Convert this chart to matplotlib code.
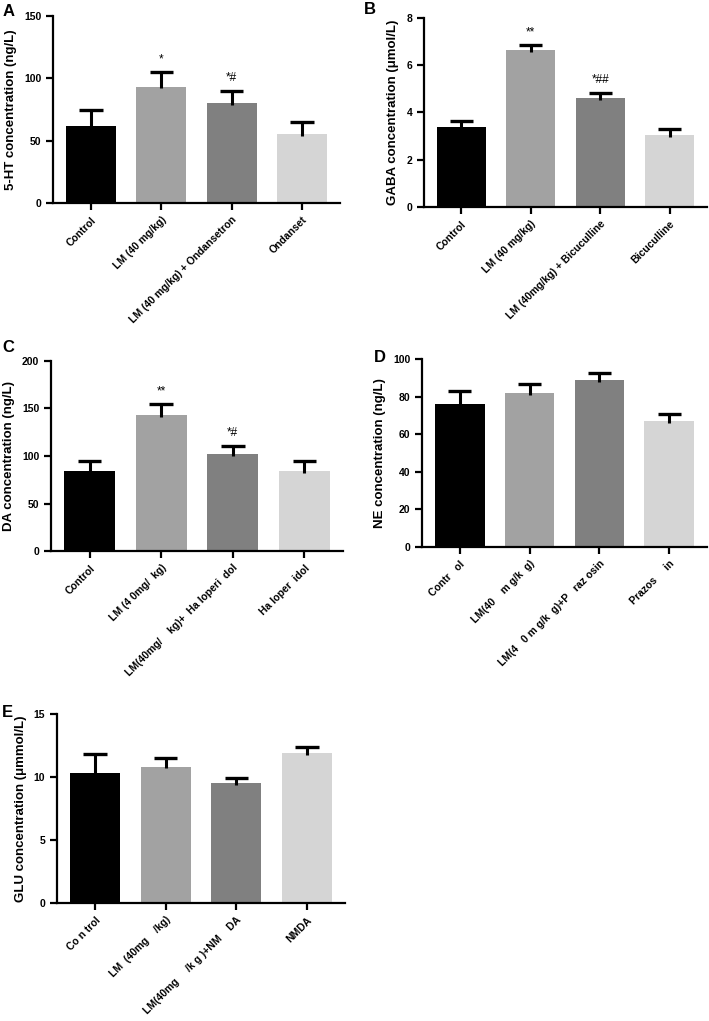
import numpy as np
import matplotlib
matplotlib.use("Agg")
import matplotlib.pyplot as plt

plt.rcParams['font.family'] = ['Liberation Sans', 'DejaVu Sans']
plt.rcParams['font.weight'] = 'bold'

bar_colors = ['#000000', '#a2a2a2', '#808080', '#d5d5d5']

# Panel A - 5-HT
a_labels = ['Control', 'LM (40 mg/kg)', 'LM (40 mg/kg) + Ondansetron', 'Ondanset']
a_means = [61.4, 93.4, 80.0, 55.5]
a_errs = [13.5, 11.5, 9.5, 9.5]
a_marks = ['', '*', '*#', '']

# Panel B - GABA
b_labels = ['Control', 'LM (40 mg/kg)', 'LM (40mg/kg) + Bicuculline', 'Bicuculline']
b_means = [3.39, 6.64, 4.60, 3.03]
b_errs = [0.27, 0.22, 0.24, 0.27]
b_marks = ['', '**', '*##', '']

# Panel C - DA
c_labels = ['Control', 'LM (4 0mg/  kg)', 'LM(40mg/    kg)+  Ha loperi  dol', 'Ha loper  idol']
c_means = [84.0, 143.0, 101.8, 84.5]
c_errs = [10.5, 11.5, 8.7, 10.0]
c_marks = ['', '**', '*#', '']

# Panel D - NE
d_labels = ['Contr   ol', 'LM(40    m g/k  g)', 'LM(4   0 m g/k  g)+P   raz osin', 'Prazos     in']
d_means = [76.0, 81.8, 88.7, 67.0]
d_errs = [6.8, 4.7, 3.7, 4.0]
d_marks = ['', '', '', '']

# Panel E - GLU
e_labels = ['Co n trol', 'LM  (40mg    /kg)', 'LM(40mg     /k g )+NM    DA', 'NMDA']
e_means = [10.3, 10.83, 9.5, 11.87]
e_errs = [1.54, 0.69, 0.45, 0.53]
e_marks = ['', '', '', '']

W, H = 709, 1021
fig = plt.figure(figsize=(W / 100, H / 100), dpi=100)


def px_axes(left, right, top, bottom):
    return fig.add_axes([left / W, 1 - bottom / H, (right - left) / W, (bottom - top) / H])


def bar_panel(ax, labels, means, errs, marks, ymax, ystep, ylabel):
    x = np.arange(len(means))
    means = np.asarray(means)
    tops = means + np.asarray(errs)
    ax.bar(x, means, width=0.71, color=bar_colors, zorder=2)
    # upper error bars only, single cap on top
    ax.vlines(x, means - 0.01 * ymax, tops, color='black', lw=2.2, zorder=3)
    ax.hlines(tops, x - 0.165, x + 0.165, color='black', lw=2.4, zorder=3)
    for xi, t, s in zip(x, tops, marks):
        if s:
            ax.annotate(s, (xi, t), xytext=(0, 5), textcoords='offset points',
                        ha='center', va='bottom', fontsize=8.5, fontweight='normal')
    ax.set_xlim(-0.54, 3.54)
    ax.set_ylim(0, ymax)
    ax.set_yticks(np.arange(0, ymax + ystep / 2, ystep))
    ax.set_xticks(x)
    ax.set_xticklabels(labels, rotation=45, ha='right', rotation_mode='anchor',
                       fontsize=7.5, fontweight='bold')
    ax.tick_params(axis='both', direction='out', width=1.6, length=5, labelsize=7.5)
    for t in ax.get_yticklabels():
        t.set_fontweight('bold')
    ax.spines['top'].set_visible(False)
    ax.spines['right'].set_visible(False)
    ax.spines['left'].set_linewidth(1.6)
    ax.spines['bottom'].set_linewidth(1.6)
    ax.set_ylabel(ylabel, fontsize=9.5, fontweight='bold', labelpad=5)


ax_a = px_axes(53, 340, 16, 203)
bar_panel(ax_a, a_labels, a_means, a_errs, a_marks, 150, 50,
          '5-HT concentration (ng/L)')

ax_b = px_axes(424, 707, 18, 207)
bar_panel(ax_b, b_labels, b_means, b_errs, b_marks, 8, 2,
          'GABA concentration (\u03bcmol/L)')

ax_c = px_axes(51, 343, 361, 551)
bar_panel(ax_c, c_labels, c_means, c_errs, c_marks, 200, 50,
          'DA concentration (ng/L)')

ax_d = px_axes(422, 707, 359, 547)
bar_panel(ax_d, d_labels, d_means, d_errs, d_marks, 100, 20,
          'NE concentration (ng/L)')

ax_e = px_axes(57, 345, 714, 903)
bar_panel(ax_e, e_labels, e_means, e_errs, e_marks, 15, 5,
          'GLU concentration (\u03bcmmol/L)')

# panel letters
for letter, px, py in [('A', 3, 11), ('B', 364, 9), ('C', 2, 347),
                       ('D', 374, 357), ('E', 2, 712)]:
    fig.text(px / W, 1 - py / H, letter, fontsize=12, fontweight='bold',
             ha='left', va='center')

fig.savefig('out.png', dpi=100)
